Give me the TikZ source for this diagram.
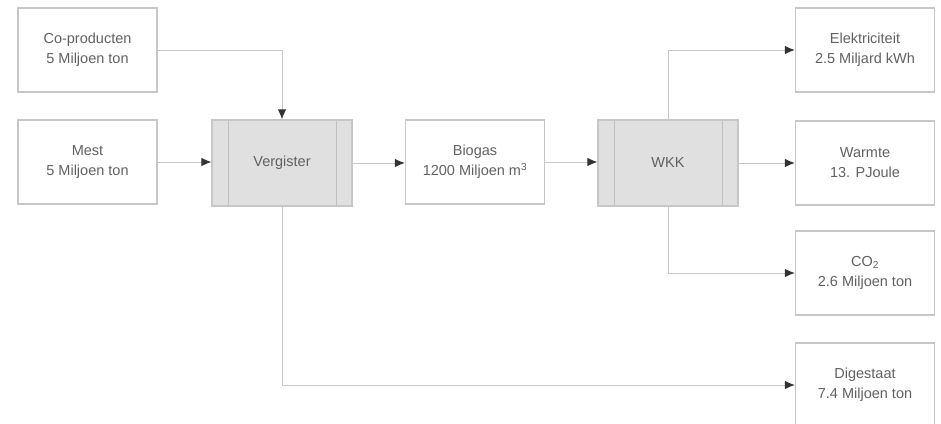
\documentclass[tikz,border=0pt]{standalone}
\usepackage{fontspec}
\setmainfont{Liberation Sans}
\usetikzlibrary{arrows.meta}
\tikzset{
	box/.style={draw=black!22, line width=1.2pt, minimum width=139pt, minimum height=84pt, align=center, text=black!62, font=\fontsize{14.5}{20}\selectfont},
	procbox/.style={box, fill=black!12, minimum width=140pt, minimum height=86pt,
		path picture={
			\draw[black!25, line width=1pt] ([xshift=16pt]path picture bounding box.south west) -- ([xshift=16pt]path picture bounding box.north west);
			\draw[black!25, line width=1pt] ([xshift=-16pt]path picture bounding box.south east) -- ([xshift=-16pt]path picture bounding box.north east);
		}},
	flow/.style={draw=black!22, line width=1pt, -{Latex[length=10pt, width=8.5pt, color=black!80]}}
}

\begin{document}
\begin{tikzpicture}[x=1pt, y=-1pt]
			%%%%% START %%%%%
			\useasboundingbox (0, 0) rectangle (941, 423);
			
			\node[box] (coprod) at (87.5, 50) {Co-producten\\5 Miljoen ton};
			\node[box] (mest) at (87.5, 162) {Mest\\5 Miljoen ton};
			\node[procbox] (vergister) at (282, 163) {Vergister};
			\node[box] (biogas) at (475, 162) {Biogas\\1200 Miljoen m\textsuperscript{3}};
			\node[procbox] (wkk) at (668, 163) {WKK};
			
			\node[box] (elek) at (865, 50) {Elektriciteit\\2.5 Miljard kWh};
			\node[box] (warmte) at (865, 163) {Warmte\\13. PJoule};
			\node[box] (co2) at (865, 273) {CO\textsubscript{2}\\2.6 Miljoen ton};
			\node[box] (digestaat) at (865, 385) {Digestaat\\7.4 Miljoen ton};
			
			\draw[flow] (coprod.east) -| (vergister.north);
			\draw[flow] (mest.east) -- (mest.east -| vergister.west);
			\draw[flow] (vergister.east) -- (vergister.east -| biogas.west);
			\draw[flow] (biogas.east) -- (biogas.east -| wkk.west);
			
			\draw[flow] (wkk.north) |- (elek.west);
			\draw[flow] (wkk.east) -- (warmte.west);
			\draw[flow] (wkk.south) |- (co2.west);
			\draw[flow] (vergister.south) |- (digestaat.west);
			
			%%%%% END %%%%%
\end{tikzpicture}
\end{document}
